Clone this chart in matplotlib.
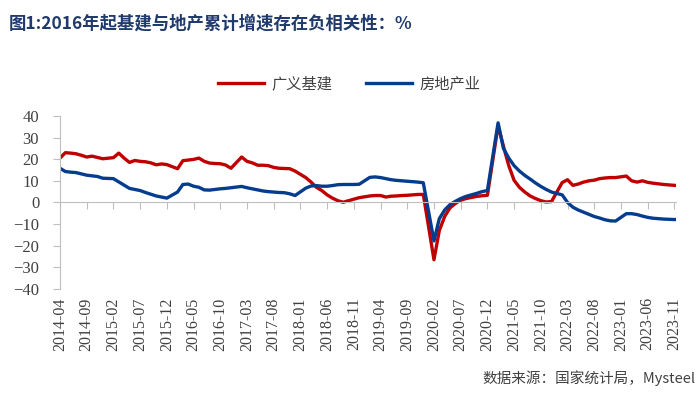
import numpy as np
import pandas as pd
import matplotlib
matplotlib.use('Agg')
import matplotlib.pyplot as plt

plt.rcParams['font.family'] = ['Liberation Serif', 'Noto Sans CJK SC']

months = list(pd.period_range('2014-04', '2023-11', freq='M').strftime('%Y-%m'))

# 广义基建 累计同比, %  (January not published -> None)
infra = [
    20.5, 23, 22.8, 22.5, 21.8, 21, 21.4, 20.8, 20.2, None,
    20.7, 22.8, 20.5, 18.5, 19.4, 19, 18.8, 18.3, 17.4, 17.8, 17.5, None,
    15.6, 19.3, 19.6, 19.9, 20.5, 19, 18.2, 18, 17.9, 17.3, 15.8, None,
    21, 19, 18.3, 17.2, 17.2, 17, 16.2, 15.8, 15.7, 15.6, 14.5, None,
    11.5, 9.4, 7, 5.5, 3.5, 2, 0.8, 0.1, 0.8, 1.5, 2.2, None,
    3, 3.2, 3.2, 2.5, 2.9, 3, 3.2, 3.3, 3.5, 3.7, 3.7, None,
    -26.5, -13, -6.5, -2.5, -0.5, 1, 1.8, 2.3, 2.8, 3.1, 3.3, None,
    35.5, 26, 17, 10.2, 7, 4.8, 3, 1.8, 0.8, 0.2, 0.4, None,
    9.2, 10.5, 7.9, 8.5, 9.4, 10, 10.3, 11, 11.3, 11.5, 11.5, None,
    12.2, 10, 9.4, 10, 9.3, 8.9, 8.6, 8.3, 8.1, 7.9,
]

# 房地产业 累计同比, %
estate = [
    15.8, 14.3, 14, 13.8, 13.2, 12.6, 12.3, 12, 11.2, None,
    11, 9.5, 8, 6.5, 6, 5.5, 4.6, 3.8, 3, 2.5, 2, None,
    4.8, 8.3, 8.5, 7.5, 7, 5.8, 5.7, 6, 6.3, 6.5, 6.8, None,
    7.4, 6.8, 6.3, 5.8, 5.3, 5, 4.8, 4.6, 4.5, 4, 3.2, None,
    6.6, 7.6, 7.8, 7.5, 7.5, 7.8, 8.2, 8.3, 8.3, 8.3, 8.4, None,
    11.6, 11.8, 11.5, 11, 10.5, 10.2, 10, 9.8, 9.6, 9.4, 9.1, None,
    -17.8, -7.5, -3.5, -1, 0.5, 1.8, 2.8, 3.5, 4.2, 5, 5.5, None,
    36.8, 25, 20.5, 17, 14.5, 12.5, 10.8, 9, 7.4, 6, 4.8, None,
    3.5, 0, -2.2, -3.5, -4.5, -5.5, -6.5, -7.2, -8, -8.5, -8.6, None,
    -5.2, -5.2, -5.6, -6.3, -6.9, -7.3, -7.5, -7.7, -7.8, -7.9,
]

red = '#C00000'
blue = '#053C8E'
axis_gray = '#BFBFBF'

fig = plt.figure(figsize=(7, 4.2), dpi=100)
ax = fig.add_axes([0.0857, 0.312, 0.88, 0.412])

x = np.arange(len(months))
for vals, c, lab in [(infra, red, '广义基建'), (estate, blue, '房地产业')]:
    y = np.array(vals, dtype=float)
    m = ~np.isnan(y)
    ax.plot(x[m], y[m], color=c, lw=2.4, label=lab, solid_joinstyle='round')

ax.set_xlim(0, len(months) - 1 + 0.3)
ax.set_ylim(-40, 40)
ax.set_yticks(np.arange(-40, 41, 10))

for s in ['top', 'right']:
    ax.spines[s].set_visible(False)
ax.spines['left'].set_color(axis_gray)
ax.spines['bottom'].set_color(axis_gray)
ax.spines['bottom'].set_position(('data', 0))

tick_pos = x[::5]
ax.set_xticks(tick_pos)
ax.tick_params(axis='x', direction='out', length=5, color=axis_gray, labelbottom=False)
ax.tick_params(axis='y', direction='out', length=5, color=axis_gray, labelsize=12, pad=10, labelcolor='#404040')

sec = ax.secondary_xaxis('bottom')
sec.set_xticks(tick_pos, [months[i] for i in tick_pos], rotation=90)
sec.tick_params(length=0, pad=6, labelsize=11.5, labelcolor='#404040')
sec.spines['bottom'].set_visible(False)

leg = ax.legend(loc='lower center', bbox_to_anchor=(0.47, 1.055), ncol=2, frameon=False,
                prop={'family': ['Noto Sans CJK SC'], 'size': 11}, handlelength=3.0,
                columnspacing=2.2, handletextpad=0.5)
for t in leg.get_texts():
    t.set_color('#404040')

fig.text(0.012, 0.943, '图1:2016年起基建与地产累计增速存在负相关性：%', fontsize=12.5,
         fontweight='bold', color='#1F3A6B', family=['Noto Sans CJK SC'], va='center')
fig.text(0.993, 0.1, '数据来源：国家统计局，Mysteel', fontsize=10.5, color='#404040',
         family=['Noto Sans CJK SC'], ha='right', va='center')

fig.savefig('out.png', dpi=100)
